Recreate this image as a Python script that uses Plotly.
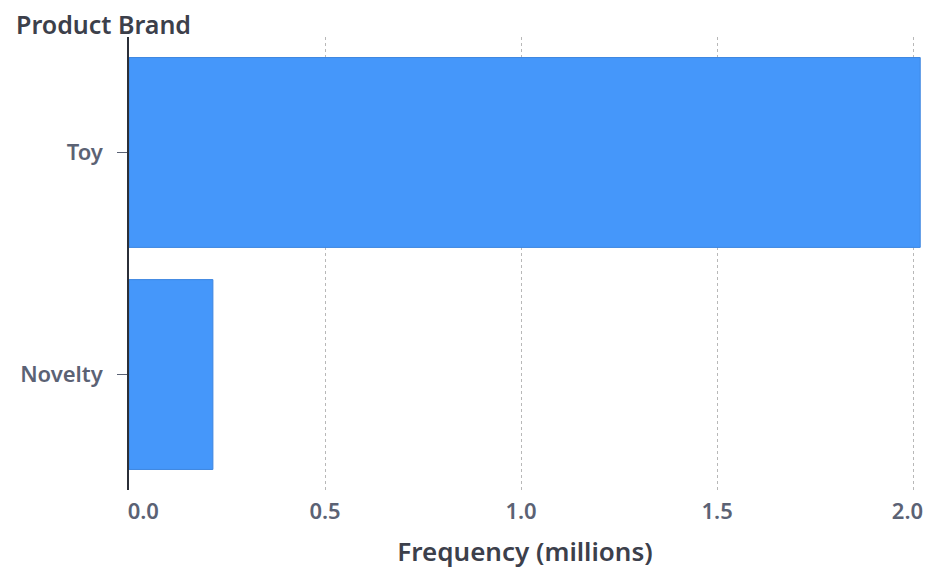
import plotly.graph_objects as go

brands = ["Novelty", "Toy"]
frequency_millions = [0.214, 2.018]
x_tick_vals = [0.0, 0.5, 1.0, 1.5, 2.0]
x_tick_text = ["\u00a0\u00a0\u00a0\u00a0\u00a00.0", "0.5", "1.0", "1.5", "2.0\u00a0\u00a0"]

fig = go.Figure(
    go.Bar(
        x=frequency_millions,
        y=brands,
        orientation="h",
        marker=dict(color="#4597fa", line=dict(color="#3d86e0", width=1)),
    )
)

font_family = "Noto Sans"

fig.update_layout(
    width=949,
    height=572,
    margin=dict(l=121, r=36, t=29, b=90, autoexpand=False),
    paper_bgcolor="white",
    plot_bgcolor="white",
    bargap=0.145,
    showlegend=False,
    font=dict(family=font_family, color="#5b6274", size=18),
    title=dict(
        text="Product Brand",
        xref="container", yref="container",
        x=8 / 949, y=1 - 17 / 572,
        xanchor="left", yanchor="middle",
        font=dict(size=25, color="#3c404b", family=font_family, weight=600),
        pad=dict(l=0, t=0, b=0, r=0),
    ),
)

fig.update_xaxes(
    range=[0, 2.02],
    tickvals=x_tick_vals,
    ticktext=x_tick_text,
    showgrid=True,
    gridcolor="#b8b8b8",
    griddash="dot",
    gridwidth=1,
    zeroline=False,
    showline=False,
    ticks="",
    ticklabelstandoff=6,
    tickfont=dict(size=22, color="#5b6274", weight=600),
    title=dict(text="Frequency (millions)", font=dict(size=26, color="#3c404b", weight=600), standoff=18),
)

fig.update_yaxes(
    range=[-0.52, 1.52],
    showgrid=False,
    zeroline=False,
    showline=True,
    linecolor="#2b2f38",
    linewidth=1.5,
    ticks="outside",
    ticklen=10,
    tickcolor="#5b6274",
    tickwidth=1.3,
    ticklabelstandoff=10,
    tickfont=dict(size=22, color="#5b6274", weight=600),
)

fig.write_html("out.html")
